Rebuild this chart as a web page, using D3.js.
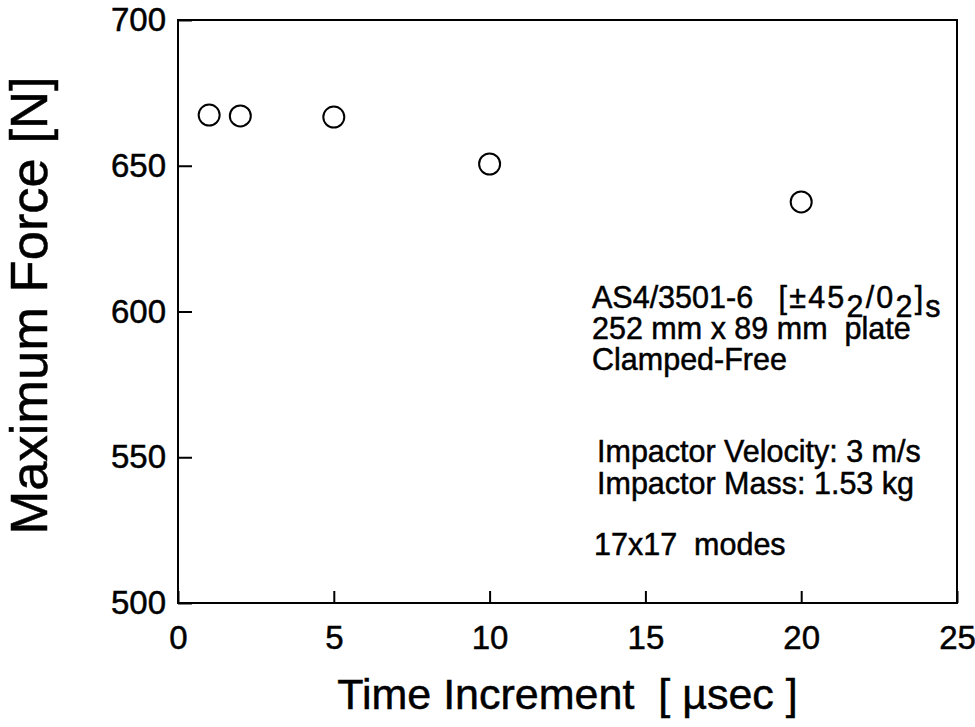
<!DOCTYPE html>
<html>
<head>
<meta charset="utf-8">
<script src="https://cdn.jsdelivr.net/npm/d3@7"></script>
<style>
  body { margin: 0; background: #fff; }
  text { font-family: "Liberation Sans", Arial, Helvetica, sans-serif; fill: #000; white-space: pre;
         stroke: #000; stroke-width: 0.5px; }
</style>
</head>
<body>
<svg width="975" height="727"></svg>
<script>
// data
var timeIncrement = [1, 2, 5, 10, 20];
var maxForce = [667.4, 667.1, 666.7, 650.6, 637.6];
var xTicks = [0, 5, 10, 15, 20, 25];
var yTicks = [500, 550, 600, 650, 700];

// annotation lines (text, subscript flag)
var notes = [
  { parts: [["AS4/3501-6   ", 0], ["[±45", 0], ["2", 1], ["/0", 0], ["2", 1], ["]", 0], ["s", 1]], x: 592, y: 308 },
  { parts: [["252 mm x 89 mm  plate", 0]], x: 592, y: 339 },
  { parts: [["Clamped-Free", 0]], x: 592, y: 370 },
  { parts: [["Impactor Velocity: 3 m/s", 0]], x: 597, y: 462 },
  { parts: [["Impactor Mass: 1.53 kg", 0]], x: 597, y: 494 },
  { parts: [["17x17  modes", 0]], x: 594, y: 555 }
];

var svg = d3.select("svg");

var mLeft = 178, mRight = 957, mTop = 20, mBottom = 603;

var x = d3.scaleLinear().domain([0, 25]).range([mLeft, mRight]);
var y = d3.scaleLinear().domain([500, 700]).range([mBottom, mTop]);

// frame
svg.append("rect")
  .attr("x", mLeft).attr("y", mTop)
  .attr("width", mRight - mLeft).attr("height", mBottom - mTop)
  .attr("fill", "none").attr("stroke", "#000").attr("stroke-width", 2);

// x axis, ticks pointing inward
var xAxis = svg.append("g")
  .attr("transform", "translate(0," + mBottom + ")")
  .call(d3.axisBottom(x).tickValues(xTicks).tickSizeInner(-12).tickSizeOuter(0));
xAxis.select(".domain").remove();
xAxis.selectAll("line").attr("stroke-width", 2);
xAxis.selectAll("text").attr("font-size", 33).attr("font-family", null).attr("fill", null)
  .attr("dy", "0.71em").attr("y", 23);

// y axis
var yAxis = svg.append("g")
  .attr("transform", "translate(" + mLeft + ",0)")
  .call(d3.axisLeft(y).tickValues(yTicks).tickSizeInner(-14).tickSizeOuter(0));
yAxis.select(".domain").remove();
yAxis.selectAll("line").attr("stroke-width", 2);
yAxis.selectAll("text").attr("font-size", 33).attr("font-family", null).attr("fill", null).attr("x", -12);

// axis titles
svg.append("text")
  .attr("x", (mLeft + mRight) / 2).attr("y", 709)
  .attr("text-anchor", "middle").attr("font-size", 43)
  .text("Time Increment  [ \u00b5sec ]");

svg.append("text")
  .attr("transform", "translate(47," + ((mTop + mBottom) / 2 - 6) + ") rotate(-90)")
  .attr("text-anchor", "middle").attr("font-size", 52.5)
  .text("Maximum Force [N]");

// points
svg.append("g").selectAll("circle")
  .data(timeIncrement)
  .enter().append("circle")
  .attr("cx", function (d) { return x(d); })
  .attr("cy", function (d, i) { return y(maxForce[i]); })
  .attr("r", 10.5)
  .attr("fill", "#fff").attr("stroke", "#000").attr("stroke-width", 2);

// annotation block
var noteText = svg.append("g").selectAll("text")
  .data(notes)
  .enter().append("text")
  .attr("x", function (d) { return d.x; })
  .attr("y", function (d) { return d.y; })
  .attr("font-size", 30.5);

noteText.each(function (d) {
  var t = d3.select(this), sub = 0;
  d.parts.forEach(function (p, i) {
    var shift = (p[1] - sub) * 9;
    sub = p[1];
    var ts = t.append("tspan").attr("dy", shift).text(p[0]);
    // the bracketed lay-up is set a little wider in the original
    if (d.parts.length > 1 && i > 0) ts.attr("letter-spacing", 2.2);
  });
});
</script>
</body>
</html>
